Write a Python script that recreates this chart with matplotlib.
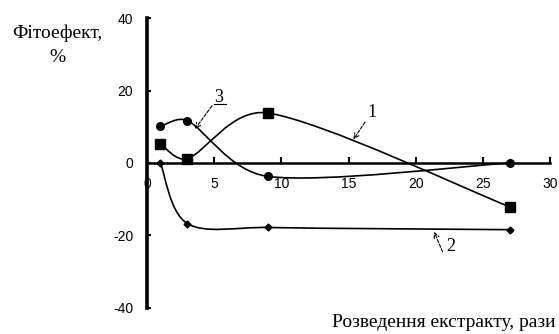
import numpy as np
import matplotlib.pyplot as plt
from matplotlib.path import Path
from matplotlib.patches import PathPatch

# dilution of the extract, times
dilution = [1, 3, 9, 27]
# phyto-effect, %
series_1 = [5.3, 1.2, 13.8, -12.1]
series_2 = [0.0, -16.7, -17.8, -18.4]
series_3 = [10.1, 11.7, -3.7, 0.0]

x_ticks = [0, 5, 10, 15, 20, 25, 30]
y_ticks = [-40, -20, 0, 20, 40]


def smooth_path(ax, xs, ys, t=1.0 / 6):
    # Excel-like smoothed line, control arms worked out in pixel space
    tr = ax.transData
    pts = tr.transform(np.column_stack([xs, ys]).astype(float))
    n = len(pts)
    verts = [pts[0]]
    codes = [Path.MOVETO]
    for i in range(n - 1):
        p0 = pts[i - 1] if i > 0 else pts[i]
        p1 = pts[i]
        p2 = pts[i + 1]
        p3 = pts[i + 2] if i + 2 < n else pts[i + 1]
        seg = np.hypot(*(p2 - p1))
        a1 = (p2 - p0) * t
        a2 = (p3 - p1) * t
        for a in (a1, a2):
            L = np.hypot(*a)
            if L > seg / 2.5:
                a *= (seg / 2.5) / L
        verts += [p1 + a1, p2 - a2, p2]
        codes += [Path.CURVE4] * 3
    return Path(tr.inverted().transform(np.array(verts)), codes)


fig = plt.figure(figsize=(5.59, 3.34), dpi=100)
ax = fig.add_axes([0.263, 0.078, 0.721, 0.868])
ax.set_xlim(0, 30)
ax.set_ylim(-40, 40)

for ys, mk, ms in [(series_1, 's', 6.5), (series_2, 'D', 3.5), (series_3, 'o', 5.5)]:
    ax.add_patch(PathPatch(smooth_path(ax, dilution, ys), fill=False, lw=1.2, color='k'))
    ax.plot(dilution, ys, ls='none', marker=mk, ms=ms, color='k', clip_on=False)

for s in ['top', 'right']:
    ax.spines[s].set_visible(False)
ax.spines['left'].set_position(('data', 0))
ax.spines['bottom'].set_position(('data', 0))
ax.spines['left'].set_linewidth(2.6)
ax.spines['bottom'].set_linewidth(1.8)

ax.set_xticks(x_ticks)
ax.set_yticks(y_ticks)
ax.set_xticklabels([str(v) for v in x_ticks], fontsize=10, family='Liberation Sans')
ax.set_yticklabels([str(v) for v in y_ticks], fontsize=10, family='Liberation Sans')
ax.tick_params(axis='x', direction='in', length=4, width=1.5, pad=10)
ax.tick_params(axis='y', direction='in', length=3, width=1.5, pad=10)

serif = 'Liberation Serif'
fig.text(0.102, 0.901, 'Фітоефект,', fontsize=14, family=serif, ha='center', va='center')
fig.text(0.102, 0.829, '%', fontsize=14, family=serif, ha='center', va='center')
fig.text(0.994, 0.033, 'Розведення екстракту, рази', fontsize=14, family=serif,
         ha='right', va='center')

# curve labels with dashed pointer arrows
arrow = dict(arrowstyle='->', lw=0.8, color='k', linestyle=(0, (3, 1.5)),
             shrinkA=0, shrinkB=0, mutation_scale=9)
ax.text(16.73, 13.8, '1', fontsize=13, family=serif, ha='center', va='center')
ax.annotate('', xy=(15.36, 6.5), xytext=(16.23, 11.3), arrowprops=arrow)
ax.text(5.36, 18.2, '3', fontsize=13, family=serif, ha='center', va='center')
ax.plot([4.95, 5.85], [16.2, 16.2], color='k', lw=0.8)
ax.annotate('', xy=(3.57, 9.4), xytext=(4.84, 15.8), arrowprops=arrow)
ax.text(22.6, -23.1, '2', fontsize=13, family=serif, ha='center', va='center')
ax.annotate('', xy=(21.37, -19.0), xytext=(22.0, -24.5), arrowprops=arrow)

fig.savefig('out.png', dpi=100)
